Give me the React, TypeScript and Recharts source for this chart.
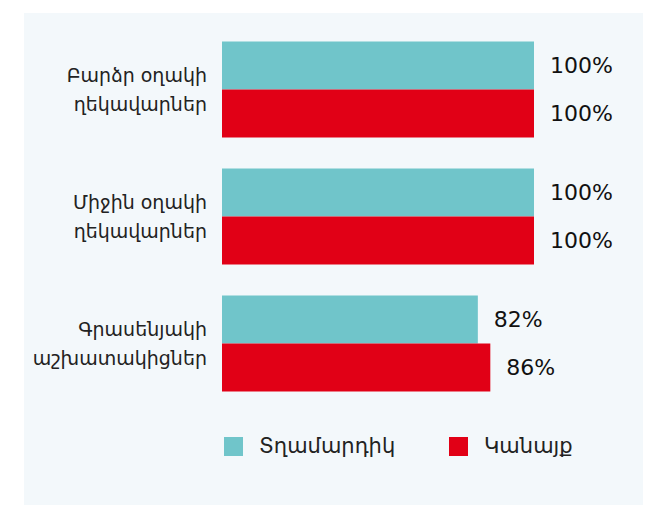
import React from 'react';
import { BarChart, Bar, XAxis, YAxis, LabelList, Legend } from 'recharts';

const categories = ['Բարձր օղակի\nղեկավարներ', 'Միջին օղակի\nղեկավարներ', 'Գրասենյակի\nաշխատակիցներ'];
const men = [100, 100, 82];
const women = [100, 100, 86];
const seriesNames = ['Տղամարդիկ', 'Կանայք'];

const TEAL = '#70C5CA';
const RED = '#E10016';
const seriesColors = [TEAL, RED];
const ARM_FONT = "'DejaVu Sans', 'Noto Sans', sans-serif";
const NUM_FONT = "'DejaVu Sans', sans-serif";

const data = categories.map((name, i) => ({ name, men: men[i], women: women[i] }));

const CategoryTick = (props: any) => {
  const { x, y, payload } = props;
  const lines = String(payload.value).split('\n');
  return (
    <text x={x} y={y} textAnchor="end" fontFamily={ARM_FONT} fontSize={19} fill="#222">
      {lines.map((l, i) => (
        <tspan key={i} x={x} dy={i === 0 ? -7 : 28.5}>{l}</tspan>
      ))}
    </text>
  );
};

const LegendContent = () => {
  return (
    <div style={{ position: 'relative', height: 30, width: 659 }}>
      {seriesNames.map((name, i) => (
        <div key={i} style={{ position: 'absolute', left: i === 0 ? 224 : 449, top: 6, display: 'flex', alignItems: 'center' }}>
          <div style={{ width: 19, height: 19, background: seriesColors[i] }} />
          <span style={{ marginLeft: 16, fontFamily: ARM_FONT, fontSize: 21, color: '#222', lineHeight: '19px' }}>{name}</span>
        </div>
      ))}
    </div>
  );
};

export default function App() {
  return (
    <div style={{ position: 'absolute', left: 0, top: 0, width: 659, height: 507, background: '#fff' }}>
      <div style={{ position: 'absolute', left: 24, top: 13, width: 619, height: 492, background: '#F3F8FB' }} />
      <div style={{ position: 'absolute', left: 0, top: 0 }}>
        <BarChart
          width={659}
          height={507}
          data={data}
          layout="vertical"
          margin={{ top: 25.5, right: 125, bottom: 70.5, left: 0 }}
          barGap={0}
          barCategoryGap={15.5}
        >
          <XAxis type="number" domain={[0, 100]} hide />
          <YAxis
            type="category"
            dataKey="name"
            width={222}
            axisLine={false}
            tickLine={false}
            tickSize={0}
            tickMargin={15}
            tick={<CategoryTick />}
            interval={0}
          />
          <Legend
            verticalAlign="bottom"
            content={<LegendContent />}
            wrapperStyle={{ top: 431, left: 0, bottom: 'auto', width: 659, height: 30 }}
          />
          <Bar dataKey="men" name={seriesNames[0]} fill={TEAL} barSize={48} isAnimationActive={false}>
            <LabelList dataKey="men" position="right" offset={16} formatter={(v: any) => `${v}%`} style={{ fontFamily: NUM_FONT, fontSize: 22, fill: '#111' }} />
          </Bar>
          <Bar dataKey="women" name={seriesNames[1]} fill={RED} barSize={48} isAnimationActive={false}>
            <LabelList dataKey="women" position="right" offset={16} formatter={(v: any) => `${v}%`} style={{ fontFamily: NUM_FONT, fontSize: 22, fill: '#111' }} />
          </Bar>
        </BarChart>
      </div>
    </div>
  );
}
